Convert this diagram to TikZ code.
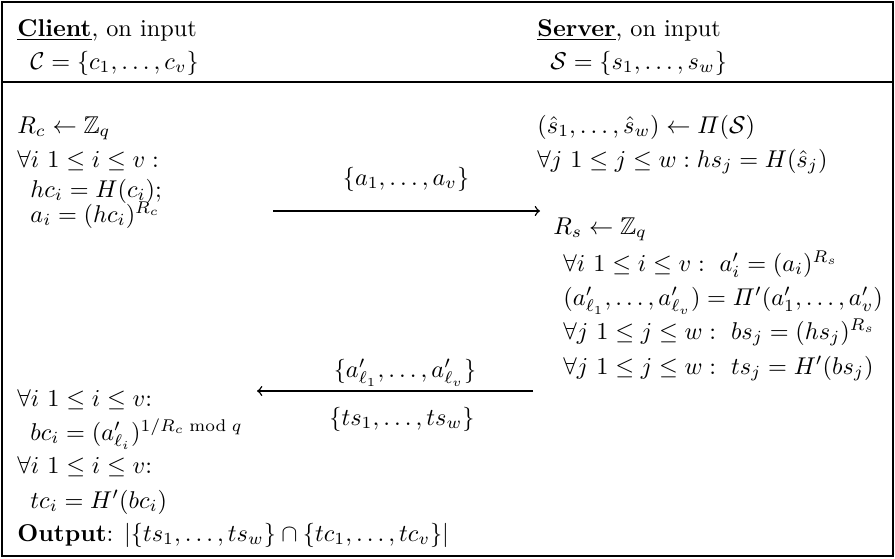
\documentclass[tikz,border=0pt]{standalone}
\usepackage{amsmath,amssymb}
\begin{document}
\begin{tikzpicture}[x=0.412pt,y=-0.412pt,
  txt/.style={anchor=base west, inner sep=0pt},
  lbl/.style={anchor=base, inner sep=0pt},
  frame/.style={line width=0.85pt},
  msg/.style={->, line width=0.6pt}]
\useasboundingbox (0,0) rectangle (895,558);
\draw[frame] (2,2) rectangle (893,556);
\draw[frame] (2,82) -- (893,82);
% headers
\node[txt] (ch) at (17,36) {\underline{\textbf{Client}}, on input};
\node[txt] (ci) at (30,69) {$\mathcal{C}=\{c_1,\dots,c_v\}$};
\node[txt] (sh) at (537,36) {\underline{\textbf{Server}}, on input};
\node[txt] (si) at (550,69) {$\mathcal{S}=\{s_1,\dots,s_w\}$};
% client top
\node[txt] (c1) at (17,133) {$R_c\leftarrow\mathbb{Z}_q$};
\node[txt] (c2) at (17,167) {$\forall i\ 1\le i\le v:$};
\node[txt] (c3) at (30,197) {$hc_i=H(c_i);$};
\node[txt] (c4) at (30,222) {$a_i=(hc_i)^{R_c}$};
% server
\node[txt] (s1) at (537,133) {$(\hat s_1,\dots,\hat s_w)\leftarrow\varPi(\mathcal{S})$};
\node[txt] (s2) at (537,167) {$\forall j\ 1\le j\le w: hs_j=H(\hat s_j)$};
\node[txt] (s3) at (553,234) {$R_s\leftarrow\mathbb{Z}_q$};
\node[txt] (s4) at (563,271) {$\forall i\ 1\le i\le v:\ a'_i=(a_i)^{R_s}$};
\node[txt] (s5) at (563,305) {$(a'_{\ell_1},\dots,a'_{\ell_v})=\varPi'(a'_1,\dots,a'_v)$};
\node[txt] (s6) at (563,339) {$\forall j\ 1\le j\le w:\ bs_j=(hs_j)^{R_s}$};
\node[txt] (s7) at (563,374) {$\forall j\ 1\le j\le w:\ ts_j=H'(bs_j)$};
% client bottom
\node[txt] (c5) at (17,406) {$\forall i\ 1\le i\le v$:};
\node[txt] (c6) at (30,440) {$bc_i=(a'_{\ell_i})^{1/R_c \bmod q}$};
\node[txt] (c7) at (17,473) {$\forall i\ 1\le i\le v$:};
\node[txt] (c8) at (30,508) {$tc_i=H'(bc_i)$};
\node[txt] (c9) at (17,541) {\textbf{Output}: $|\{ts_1,\dots,ts_w\}\cap\{tc_1,\dots,tc_v\}|$};
% messages
\coordinate (m1s) at (273,211);
\coordinate (m1e) at (540,211);
\draw[msg] (m1s) -- (m1e);
\node[lbl] (m1l) at (406,185) {$\{a_1,\dots,a_v\}$};
\coordinate (m2s) at (533,391);
\coordinate (m2e) at (257,391);
\draw[msg] (m2s) -- (m2e);
\node[lbl] (m2a) at (405,377) {$\{a'_{\ell_1},\dots,a'_{\ell_v}\}$};
\node[lbl] (m2b) at (402,425) {$\{ts_1,\dots,ts_w\}$};
\end{tikzpicture}
\end{document}
